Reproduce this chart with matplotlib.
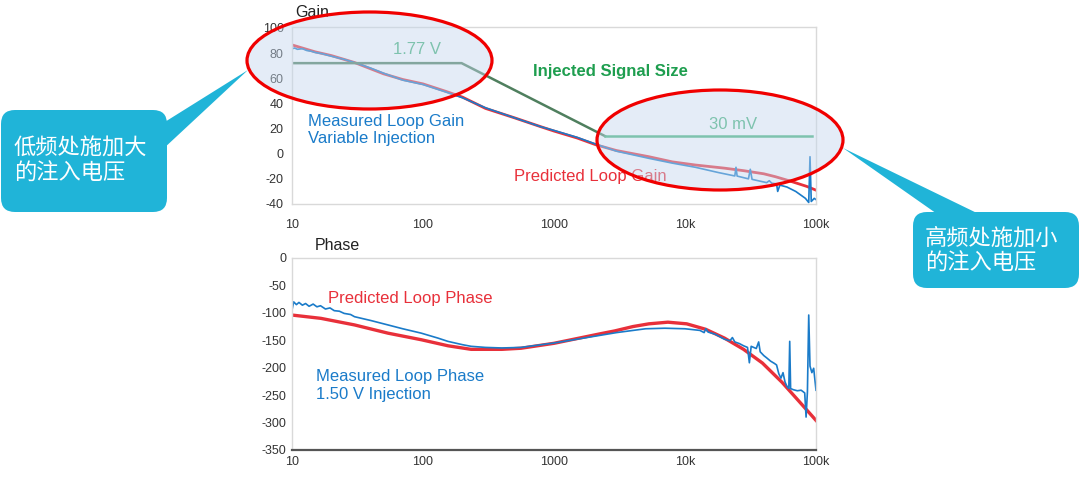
import matplotlib
matplotlib.use("Agg")
import matplotlib.pyplot as plt
from matplotlib.patches import Ellipse, FancyBboxPatch, Polygon

plt.rcParams["font.family"] = ["Liberation Sans", "Noto Sans CJK SC", "DejaVu Sans"]
plt.rcParams["axes.unicode_minus"] = False

# ---- values ------------------------------------------------------------
FREQ_TICKS = [10, 100, 1000, 10000, 100000]
FREQ_LABELS = ["10", "100", "1000", "10k", "100k"]
GAIN_TICKS = [-40, -20, 0, 20, 40, 60, 80, 100]
PHASE_TICKS = [0, -50, -100, -150, -200, -250, -300, -350]

pred_gain_f = [10, 15, 20, 30, 50, 70, 100, 150, 200, 300, 500, 790, 1000,
               1500, 2100, 3000, 5300, 8000, 12000, 20000, 28000, 40000,
               49000, 60000, 72000, 85000, 100000]
pred_gain_db = [86.5, 81, 78, 72.5, 63.5, 59, 55.5, 49.5, 45, 36, 28.5, 21.5,
                18, 12.5, 7, 2.5, -2.4, -6.5, -9, -11.5, -13.5, -16, -18.3,
                -21, -23.6, -26, -29]

meas_gain_f = [10, 10.5, 11, 12, 13, 14, 15, 17, 20, 25, 30, 40, 50, 70, 100,
               150, 200, 300, 500, 790, 1000, 1500, 2100, 3000, 5300, 8000,
               12000, 18000, 24000, 24500, 25000, 30500, 31500, 32500, 38000,
               42000, 44000, 46000, 50000, 51000, 53000, 60000, 70000, 83000,
               88000, 90000, 92000, 97000, 100000]
meas_gain_db = [83.5, 84, 83, 83.5, 82, 81.5, 80.5, 79.5, 77.5, 75, 72.5, 68,
                64, 58.5, 55, 49, 44.5, 36.5, 28.5, 21.5, 18.5, 13, 7.5, 2,
                -3.7, -7.5, -10.8, -15, -17.7, -10.8, -17.8, -20, -12.4, -20.4,
                -22, -23, -21.5, -23.5, -24, -30, -25, -26.5, -30, -35.5,
                -38.8, -2.4, -38, -35.5, -36.5]

# injected signal size trace (drawn on the gain scale)
inj_f = [10, 197, 2450, 93000]
inj_db = [72, 72, 14, 14]

pred_phase_f = [10, 16.6, 30, 54, 97, 155, 233, 400, 560, 1000, 2380, 2900,
                4000, 5300, 7400, 10300, 14400, 20000, 28000, 39000, 55000,
                76000, 100000]
pred_phase_deg = [-104, -110, -122, -137, -149, -160, -166.5, -166.5, -164.5,
                  -155.5, -137, -133, -125, -120, -117, -120, -130, -146,
                  -166.5, -191.5, -226.5, -264, -296]

meas_phase_f = [10, 10.3, 10.8, 11.3, 12, 12.7, 13.5, 14.5, 15.5, 16.5, 18,
                19.5, 21, 23, 25, 28, 30, 40, 54, 70, 97, 130, 155, 200, 233,
                300, 400, 560, 1000, 2000, 3000, 5000, 7000, 10000, 13000,
                14000, 14400, 15000, 17000, 20000, 22000, 23000, 24000, 26000,
                28000, 30000, 31000, 32000, 35000, 36500, 37500, 40000, 42000,
                45000, 48000, 50000, 52000, 54000, 56000, 58000, 60000, 62000,
                63000, 64000, 67000, 72000, 77000, 80000, 82000, 84000, 86000,
                88000, 90000, 93000, 96000, 100000]
meas_phase_deg = [-95, -80, -85, -81, -86, -83, -88, -84, -89, -87, -93, -91,
                  -96, -97, -101, -103, -107, -114, -122, -129, -137, -146,
                  -152, -158, -161, -163, -164, -163, -155, -143, -136, -129,
                  -128, -129, -132, -136, -129, -135, -139, -148, -151, -145,
                  -153, -156, -160, -163, -191, -161, -165, -153, -171, -178,
                  -182, -188, -192, -195, -211, -219, -209, -226, -234, -238,
                  -152, -238, -240, -242, -241, -244, -246, -290, -244, -104,
                  -197, -209, -201, -241]

RED, BLUE = "#e8303a", "#1a7bc9"
GREEN_DARK, GREEN_LIGHT, GREEN_TXT = "#4f7f5e", "#45b27a", "#1e9e4f"
FRAME, TICK = "#d9d9d9", "#333333"
CALLOUT = "#20b4d8"

W, H = 1080, 479
fig = plt.figure(figsize=(W / 100, H / 100), dpi=100)


def px_axes(left, top, right, bottom):
    return fig.add_axes([left / W, 1 - bottom / H, (right - left) / W,
                         (bottom - top) / H])


def style(ax, xpad):
    ax.set_xscale("log")
    ax.set_xlim(10, 100000)
    ax.set_xticks(FREQ_TICKS)
    ax.set_xticklabels(FREQ_LABELS)
    ax.minorticks_off()
    ax.tick_params(length=0, labelsize=9, colors=TICK)
    ax.tick_params(axis="x", pad=xpad)
    for s in ax.spines.values():
        s.set_color(FRAME)
        s.set_linewidth(1)


# ---- gain panel ----------------------------------------------------------
axg = px_axes(292, 27.3, 816, 204)
axg.plot(pred_gain_f, pred_gain_db, color=RED, lw=2.0)
axg.plot(meas_gain_f, meas_gain_db, color=BLUE, lw=1.2)
axg.plot(inj_f[:3], inj_db[:3], color=GREEN_DARK, lw=1.8)
axg.plot(inj_f[2:], inj_db[2:], color=GREEN_LIGHT, lw=1.8)
axg.set_ylim(-40, 100.5)
axg.set_yticks(GAIN_TICKS)
axg.tick_params(axis="y", pad=6)
style(axg, 10.5)

# ---- phase panel ---------------------------------------------------------
axp = px_axes(292, 258, 816, 450)
axp.plot(pred_phase_f, pred_phase_deg, color=RED, lw=2.4)
axp.plot(meas_phase_f, meas_phase_deg, color=BLUE, lw=1.2)
axp.set_ylim(-350, 0)
axp.set_yticks(PHASE_TICKS)
axp.tick_params(axis="y", pad=4)
style(axp, 4)
axp.spines["bottom"].set_color("#555555")
axp.spines["bottom"].set_linewidth(1.6)

# ---- overlay in pixel coordinates: labels, ellipses, callouts -----------
ov = fig.add_axes([0, 0, 1, 1])
ov.set_xlim(0, W)
ov.set_ylim(H, 0)
ov.axis("off")
ov.set_zorder(10)
ov.patch.set_alpha(0)

ov.text(295, 12.5, "Gain", fontsize=11.5, color="#222222", va="center")
ov.text(315, 245, "Phase", fontsize=11.5, color="#222222", va="center")

ov.text(417, 49, "1.77 V", fontsize=12, color=GREEN_LIGHT, ha="center",
        va="center")
ov.text(733, 124, "30 mV", fontsize=12, color=GREEN_LIGHT, ha="center",
        va="center")
ov.text(610, 71, "Injected Signal Size", fontsize=12, color=GREEN_TXT,
        fontweight="bold", ha="center", va="center")
ov.text(308, 121, "Measured Loop Gain", fontsize=12, color=BLUE, va="center")
ov.text(308, 139, "Variable Injection", fontsize=12, color=BLUE, va="center")
ov.text(514, 177, "Predicted Loop Gain", fontsize=12, color=RED, va="center")
ov.text(328, 298, "Predicted Loop Phase", fontsize=12, color=RED,
        va="center")
ov.text(316, 376, "Measured Loop Phase", fontsize=12, color=BLUE,
        va="center")
ov.text(316, 394, "1.50 V Injection", fontsize=12, color=BLUE, va="center")

for cx, cy, w, h in [(369.5, 60.5, 245, 97), (720, 140, 246, 100)]:
    ov.add_patch(Ellipse((cx, cy), w, h, facecolor="#c4d7ee", alpha=0.45,
                         edgecolor="none", zorder=3))
    ov.add_patch(Ellipse((cx, cy), w, h, facecolor="none", edgecolor="#f00000",
                         lw=2.3, zorder=4))

# callout bubbles
ov.add_patch(Polygon([(160, 125), (162, 150), (248, 70)], closed=True,
                     facecolor=CALLOUT, edgecolor="none", zorder=5))
ov.add_patch(FancyBboxPatch((1, 110), 166, 102,
                            boxstyle="round,pad=0,rounding_size=14",
                            facecolor=CALLOUT, edgecolor="none", zorder=5))
ov.add_patch(Polygon([(940, 216), (983, 216), (843, 148)], closed=True,
                     facecolor=CALLOUT, edgecolor="none", zorder=5))
ov.add_patch(FancyBboxPatch((913, 212), 166, 76,
                            boxstyle="round,pad=0,rounding_size=14",
                            facecolor=CALLOUT, edgecolor="none", zorder=5))

cjk = ["Noto Sans CJK SC", "DejaVu Sans"]
ov.text(14, 148, "低频处施加大", fontsize=16, color="white", va="center",
        family=cjk, zorder=6)
ov.text(14, 173, "的注入电压", fontsize=16, color="white", va="center",
        family=cjk, zorder=6)
ov.text(925, 238, "高频处施加小", fontsize=16, color="white", va="center",
        family=cjk, zorder=6)
ov.text(925, 263, "的注入电压", fontsize=16, color="white", va="center",
        family=cjk, zorder=6)

fig.savefig("out.png", dpi=100)
